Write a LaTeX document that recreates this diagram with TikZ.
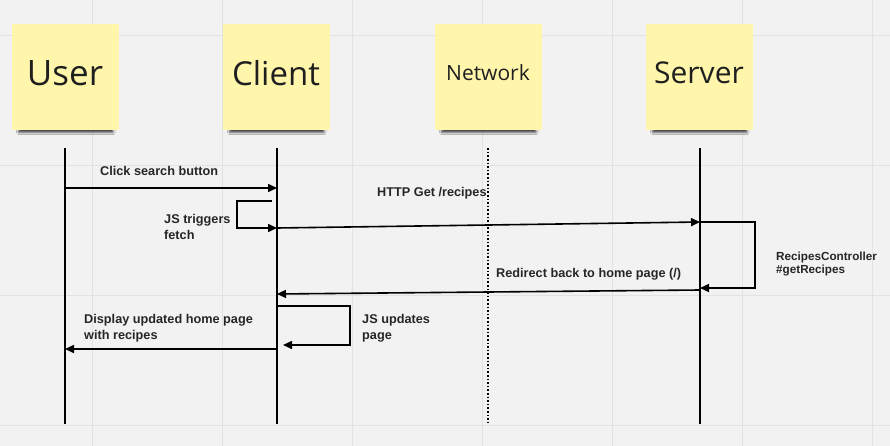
\documentclass[tikz,border=0pt]{standalone}
\usepackage{fontspec}
\setmainfont{Liberation Sans}
\newfontfamily\notefont{Open Sans}
\usetikzlibrary{arrows.meta,shadows.blur}
\definecolor{boardgray}{RGB}{242,242,242}
\definecolor{gridgray}{RGB}{226,226,226}
\definecolor{noteyellow}{RGB}{255,246,172}
\tikzset{
  sticky/.style={fill=noteyellow, minimum width=107pt, minimum height=106pt, inner sep=0pt,
    text=black!88, text depth=8pt, blur shadow={shadow xshift=1pt, shadow yshift=-10pt, shadow scale=0.88,
    shadow opacity=75, shadow blur radius=2.5pt}},
  lifeline/.style={line width=1.6pt},
  msg/.style={line width=1.6pt, -{Triangle[length=9pt,width=8pt]}},
  lbl/.style={font=\fontsize{12.7}{15.5}\selectfont\bfseries, text=black!85, anchor=west, align=left, inner sep=0pt},
}
\begin{document}
\begin{tikzpicture}[x=1pt,y=-1pt]
\useasboundingbox[fill=boardgray] (0,0) rectangle (890,446);
% board grid
\foreach \gx in {92,222,...,872} \draw[gridgray, line width=0.8pt] (\gx,0) -- (\gx,446);
\foreach \gy in {35,165,295,425} \draw[gridgray, line width=0.8pt] (0,\gy) -- (890,\gy);
% sticky notes
\node[sticky, font=\notefont\fontsize{35}{40}\selectfont] (user) at (65,77) {User};
\node[sticky, font=\notefont\fontsize{33}{40}\selectfont] (client) at (276,77) {Client};
\node[sticky, font=\notefont\fontsize{21}{26}\selectfont] (network) at (488,77) {Network};
\node[sticky, font=\notefont\fontsize{30}{40}\selectfont] (server) at (699,77) {Server};
% lifelines
\draw[lifeline] ([yshift=-18pt]user.south) -- ++(0,276);
\draw[lifeline] ([xshift=1pt,yshift=-18pt]client.south) -- ++(0,276);
\draw[lifeline, dash pattern=on 1.6pt off 2pt] ([yshift=-18pt]network.south) -- ++(0,276);
\draw[lifeline] ([xshift=1pt,yshift=-18pt]server.south) -- ++(0,276);
% message points
\coordinate (u1) at (65,188);   \coordinate (c1) at (277,188);
\coordinate (c2) at (272,201);  \coordinate (c3) at (277,228);
\coordinate (s1) at (700,222);  \coordinate (s2) at (700,288);
\coordinate (s3) at (700,290);  \coordinate (c4) at (277,294);
\coordinate (c5) at (276,306);  \coordinate (c6) at (283,345);
\coordinate (c7) at (277,349);  \coordinate (u2) at (65,349);
% messages
\draw[msg] (u1) -- (c1);
\draw[msg] (c2) -- (237,201) -- (237,228) -- (c3);
\draw[msg] (c3) -- (s1);
\draw[msg] (s1) -- (755,222) -- (755,288) -- (s2);
\draw[msg] (s3) -- (c4);
\draw[msg] (c5) -- (350,306) -- (350,345) -- (c6);
\draw[msg] (c7) -- (u2);
% labels
\node[lbl] (clicklbl) at (100,171) {Click search button};
\node[lbl] (fetchlbl) at (164,227) {JS triggers\\fetch};
\node[lbl] (httplbl) at (377,193) {HTTP Get /recipes};
\node[lbl, font=\fontsize{11.7}{13.5}\selectfont\bfseries] (ctrllbl) at (776,264) {RecipesController\\\#getRecipes};
\node[lbl] (redirlbl) at (496,274) {Redirect back to home page (/)};
\node[lbl] (updlbl) at (362,328) {JS updates\\page};
\node[lbl] (displbl) at (84,328) {Display updated home page\\with recipes};
\end{tikzpicture}
\end{document}
